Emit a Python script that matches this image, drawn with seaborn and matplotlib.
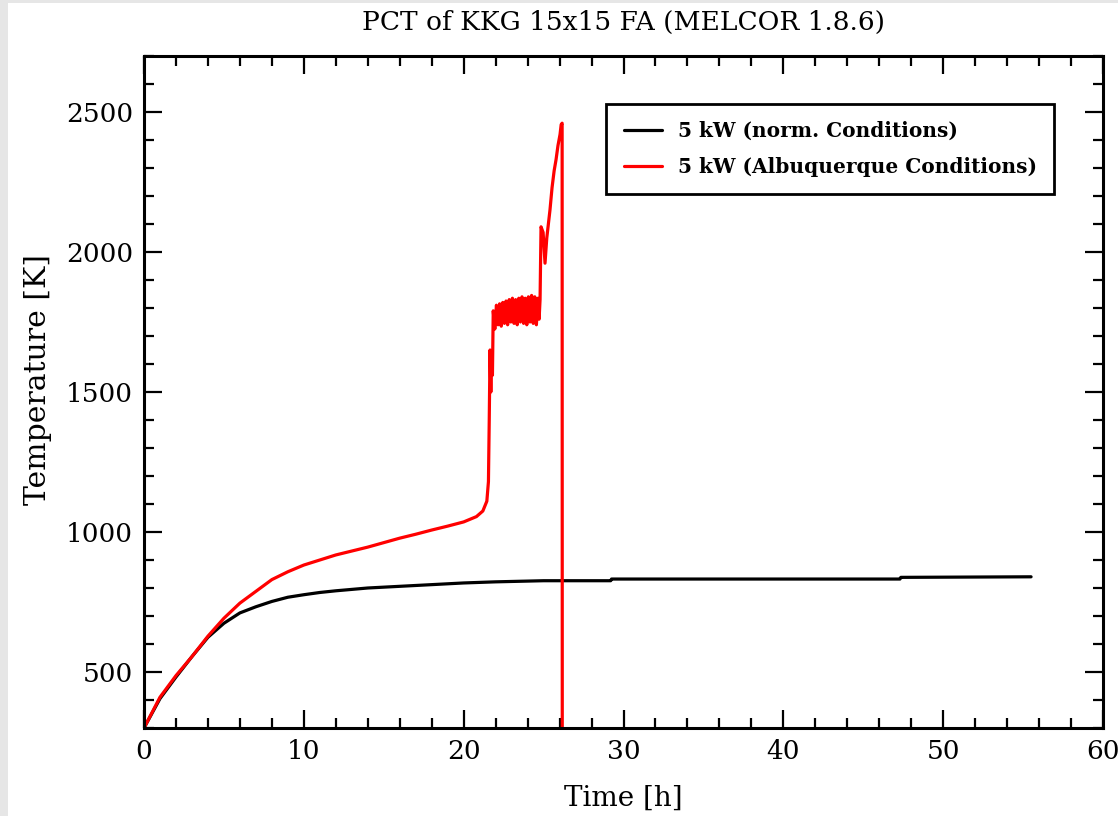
import numpy as np
import pandas as pd
import matplotlib
matplotlib.use("Agg")
import matplotlib.pyplot as plt
from matplotlib.patches import Rectangle
from matplotlib.ticker import MultipleLocator
import seaborn as sns

# ---- data ----
norm_t = [0, 1, 2, 3, 4, 5, 6, 7, 8, 9, 10, 11, 12, 13, 14, 15, 16, 17, 18,
          19, 20, 22, 25, 29.2, 29.25, 47.3, 47.35, 55.5]
norm_T = [300, 405, 482, 555, 624, 674, 711, 733, 752, 767, 776, 784, 790,
          795, 800, 803, 806, 809, 812, 815, 818, 822, 826, 826, 832, 832,
          838, 840]

alb_t = [0, 1, 2, 3, 4, 5, 6, 7, 8, 9, 10, 11, 12, 13, 14, 15, 16, 17, 18,
         19, 20, 20.8, 21.2, 21.45, 21.55, 21.6, 21.65, 21.7, 21.75, 21.8,
         21.85, 21.95, 22.05, 22.15, 22.25, 22.35, 22.45, 22.55, 22.65, 22.75,
         22.85, 22.95, 23.05, 23.15, 23.25, 23.35, 23.45, 23.55, 23.65, 23.75,
         23.85, 23.95, 24.05, 24.15, 24.25, 24.35, 24.45, 24.55, 24.65,
         24.72, 24.78, 24.84, 24.97, 25.09, 25.2, 25.28, 25.4, 25.53, 25.66,
         25.78, 25.9, 26.03, 26.1, 26.16, 26.17]
alb_T = [300, 410, 487, 555, 628, 692, 746, 788, 830, 858, 882, 900, 918,
         932, 946, 962, 978, 992, 1007, 1021, 1036, 1055, 1075, 1110, 1180,
         1400, 1650, 1500, 1640, 1560, 1790, 1725, 1810, 1740, 1815, 1735,
         1820, 1745, 1825, 1740, 1830, 1750, 1835, 1745, 1830, 1740, 1835,
         1750, 1840, 1745, 1835, 1740, 1840, 1750, 1845, 1745, 1840, 1740,
         1835, 1760, 1830, 2090, 2070, 1960, 2050, 2090, 2150, 2230, 2290,
         2330, 2380, 2420, 2455, 2460, 0]

label_norm = "5 kW (norm. Conditions)"
label_alb = "5 kW (Albuquerque Conditions)"

df = pd.concat([
    pd.DataFrame({"t": norm_t, "T": norm_T, "case": label_norm}),
    pd.DataFrame({"t": alb_t, "T": alb_T, "case": label_alb}),
], ignore_index=True)

# ---- style ----
sns.set_style("ticks")
plt.rcParams["font.family"] = ["DejaVu Serif"]
plt.rcParams["font.size"] = 19
plt.rcParams["text.color"] = "black"
plt.rcParams["axes.labelcolor"] = "black"
plt.rcParams["xtick.color"] = "black"
plt.rcParams["ytick.color"] = "black"

fig = plt.figure(figsize=(11.18, 8.16), dpi=100, facecolor="white")
# light grey frame strips on left and top edges
fig.patches.append(Rectangle((0, 0), 8 / 1118, 1, transform=fig.transFigure,
                             facecolor="#e6e6e6", edgecolor="none", zorder=-10))
fig.patches.append(Rectangle((0, 1 - 3 / 816), 1, 3 / 816, transform=fig.transFigure,
                             facecolor="#e6e6e6", edgecolor="none", zorder=-10))

ax = fig.add_axes([144 / 1118, 1 - 728 / 816, (1103 - 144) / 1118, (728 - 56) / 816])

sns.lineplot(data=df, x="t", y="T", hue="case",
             palette={label_norm: "black", label_alb: "#ff0000"},
             estimator=None, sort=False, linewidth=2.3, ax=ax)

ax.set_xlim(0, 60)
ax.set_ylim(300, 2700)
ax.xaxis.set_major_locator(MultipleLocator(10))
ax.xaxis.set_minor_locator(MultipleLocator(2))
ax.yaxis.set_major_locator(MultipleLocator(500))
ax.yaxis.set_minor_locator(MultipleLocator(100))
ax.set_yticks([500, 1000, 1500, 2000, 2500])

ax.tick_params(which="both", direction="in", top=True, right=True,
               width=1.6, colors="black", labelsize=19)
ax.tick_params(which="major", length=13, pad=8)
ax.tick_params(which="minor", length=7)
for s in ax.spines.values():
    s.set_linewidth(2.2)
    s.set_color("black")

ax.set_xlabel("Time [h]", fontsize=20, labelpad=15, color="black")
ax.set_ylabel("Temperature [K]", fontsize=21.5, color="black")
ax.yaxis.set_label_coords(-0.096, 0.519)
ax.set_title("PCT of KKG 15x15 FA (MELCOR 1.8.6)", fontsize=19, pad=19,
             color="black")

leg = ax.legend(loc="upper right", bbox_to_anchor=(0.949, 0.9286),
                borderaxespad=0, fancybox=False, frameon=True, framealpha=1,
                prop={"family": "DejaVu Serif", "weight": "bold", "size": 14.5},
                handlelength=1.9, handletextpad=0.8, borderpad=0.85,
                labelspacing=0.8)
leg.get_frame().set_edgecolor("black")
leg.get_frame().set_linewidth(2)
for h in leg.get_lines():
    h.set_linewidth(2.3)

fig.savefig("out.png", dpi=100, facecolor="white")
